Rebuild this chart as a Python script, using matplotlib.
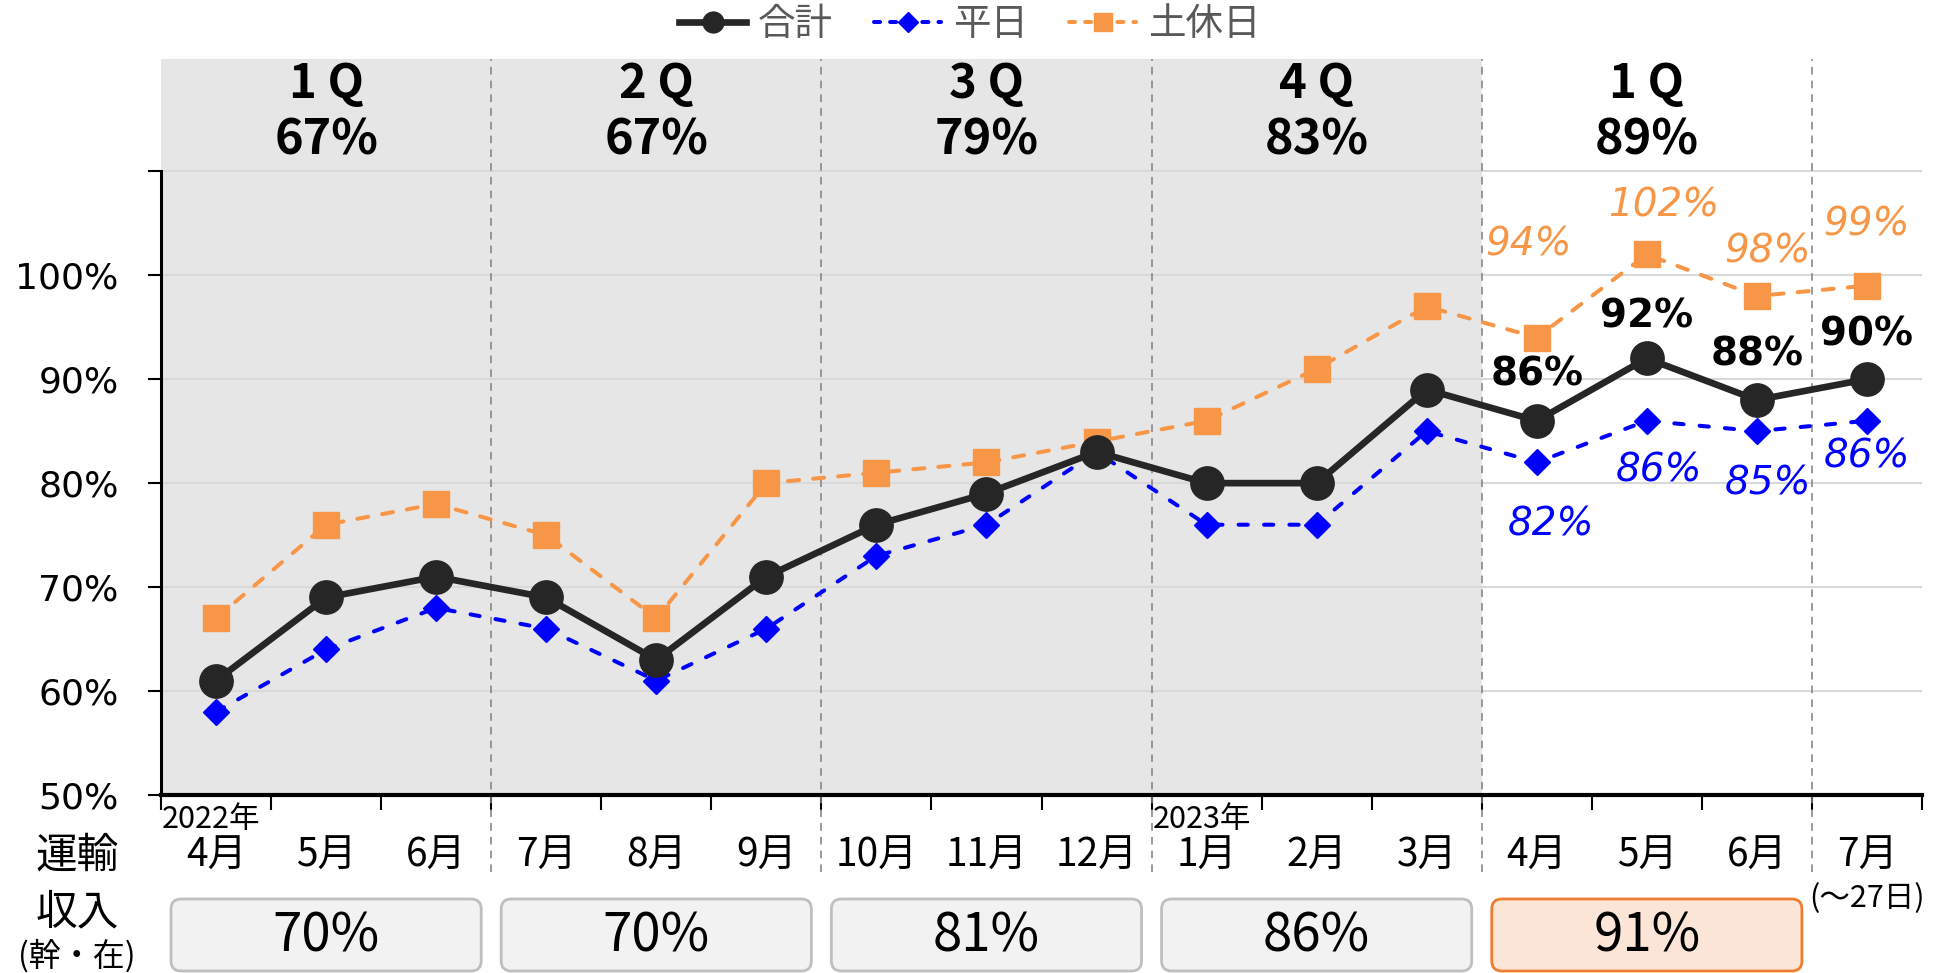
import matplotlib
matplotlib.use('Agg')
import matplotlib.pyplot as plt
from matplotlib.lines import Line2D
from matplotlib.patches import FancyBboxPatch
import matplotlib.transforms as mtransforms

plt.rcParams['font.family'] = ['Noto Sans CJK JP', 'DejaVu Sans']

# ---------------- data ----------------
months = ['4月', '5月', '6月', '7月', '8月', '9月', '10月', '11月', '12月',
          '1月', '2月', '3月', '4月', '5月', '6月', '7月']
total = [61, 69, 71, 69, 63, 71, 76, 79, 83, 80, 80, 89, 86, 92, 88, 90]
weekday = [58, 64, 68, 66, 61, 66, 73, 76, 83, 76, 76, 85, 82, 86, 85, 86]
holiday = [67, 76, 78, 75, 67, 80, 81, 82, 84, 86, 91, 97, 94, 102, 98, 99]
quarters = ['1 Q', '2 Q', '3 Q', '4 Q', '1 Q']
quarter_pct = [67, 67, 79, 83, 89]
revenue_pct = [70, 70, 81, 86, 91]
years = ['2022年', '2023年']
year_start = [0, 9]
y_ticks = [50, 60, 70, 80, 90, 100, 110]
y_ticklabels = ['50%', '60%', '70%', '80%', '90%', '100%', '']
first_labeled = 12

# label offsets (points) for the annotated months
tot_off = [(0, 33), (0, 30), (0, 33), (0, 32)]
hol_off = [(-6, 67), (12, 35), (8, 32), (0, 44)]
wk_off = [(10, -45), (9, -36), (8, -38), (0, -26)]

W, H = 1939, 973
fig = plt.figure(figsize=(W / 100, H / 100), dpi=100)
ax_l, ax_r, ax_b, ax_t = 161, 1922, 795, 59
ax = fig.add_axes([ax_l / W, 1 - ax_b / H, (ax_r - ax_l) / W, (ax_b - ax_t) / H])

n = len(months)
x = list(range(n))
ax.set_xlim(-0.5, n - 0.5)
ax.set_ylim(50, 120.8)

# shaded past-year area
ax.axvspan(-0.5, 11.5, color='#E6E6E6', zorder=0, lw=0)
for yv in y_ticks[1:]:
    ax.axhline(yv, color='#D9D9D9', lw=1.5, zorder=1)

# quarter separators
sep_tr = mtransforms.blended_transform_factory(ax.transData, ax.transAxes)
for b in [2.5, 5.5, 8.5, 11.5, 14.5]:
    ax.add_line(Line2D([b, b], [-0.105, 1.0], transform=sep_tr, color='#7F7F7F',
                       lw=1.1, ls=(0, (5, 4)), clip_on=False, zorder=2))

# series
ax.plot(x, holiday, color='#F79646', lw=2.9, ls=(0, (2.75, 3.5)),
        dash_capstyle='round', marker='s', ms=19, zorder=3)
ax.plot(x, weekday, color='#0000FF', lw=2.9, ls=(0, (2.3, 4.0)),
        dash_capstyle='round', marker='D', ms=13, zorder=4)
ax.plot(x, total, color='#262626', lw=4.8, marker='o', ms=24, zorder=5)

# annotations
for k, i in enumerate(range(first_labeled, n)):
    ax.annotate(f'{total[i]}%', (i, total[i]), xytext=tot_off[k],
                textcoords='offset points', ha='center', va='center',
                fontsize=28, fontweight='bold', family='DejaVu Sans', color='black',
                zorder=6)
    ax.annotate(f'{holiday[i]}%', (i, holiday[i]), xytext=hol_off[k],
                textcoords='offset points', ha='center', va='center',
                fontsize=28, style='italic', family='DejaVu Sans', color='#F79646',
                zorder=6)
    ax.annotate(f'{weekday[i]}%', (i, weekday[i]), xytext=wk_off[k],
                textcoords='offset points', ha='center', va='center',
                fontsize=28, style='italic', family='DejaVu Sans', color='#0000FF',
                zorder=6)

# quarter headers
for q, (lab, p) in enumerate(zip(quarters, quarter_pct)):
    cx = 3 * q + 1
    ax.text(cx, 118.4, lab, ha='center', va='center', fontsize=34,
            fontweight='bold', color='black')
    ax.text(cx, 113.0, f'{p}%', ha='center', va='center', fontsize=35,
            fontweight='bold', color='black')

# axes styling
for s in ['top', 'right']:
    ax.spines[s].set_visible(False)
ax.spines['left'].set_bounds(50, 110)
ax.spines['left'].set_linewidth(2.2)
ax.spines['bottom'].set_linewidth(3)
ax.set_yticks(y_ticks)
ax.set_yticklabels(y_ticklabels, family='DejaVu Sans', fontsize=26)
ax.tick_params(axis='y', length=9.5, width=1.5, pad=21)
ax.set_xticks([b - 0.5 for b in range(n + 1)])
ax.set_xticklabels([])
ax.tick_params(axis='x', length=11, width=1.5)

lab_tr = sep_tr
for i, m in enumerate(months):
    ax.text(i, -0.083, m, transform=lab_tr, ha='center', va='center', fontsize=28)
for ylab, si in zip(years, year_start):
    ax.text(si - 0.49, -0.033, ylab, transform=lab_tr, ha='left', va='center',
            fontsize=22)
ax.text(n - 1, -0.141, '(～27日)', transform=lab_tr, ha='center', va='center',
        fontsize=22)

# left-side row labels
for txt, yy, fs in [('運輸', 856, 30), ('収入', 913, 30), ('(幹・在)', 956, 23)]:
    fig.text(77 / W, 1 - yy / H, txt, ha='center', va='center', fontsize=fs)

# revenue boxes (pixel overlay)
ov = fig.add_axes([0, 0, 1, 1])
ov.set_xlim(0, W)
ov.set_ylim(H, 0)
ov.axis('off')
ov.patch.set_alpha(0)
for q, rv in enumerate(revenue_pct):
    x0 = ax.transData.transform((3 * q - 0.5, 50))[0] + 10
    x1 = ax.transData.transform((3 * q + 2.5, 50))[0] - 10
    last = q == len(revenue_pct) - 1
    fc = '#FBE5D6' if last else '#F2F2F2'
    ec = '#ED7D31' if last else '#BFBFBF'
    pad = 10
    ov.add_patch(FancyBboxPatch((x0 + pad, 899 + pad), x1 - x0 - 2 * pad, 72 - 2 * pad,
                                boxstyle=f'round,pad={pad}', fc=fc, ec=ec, lw=2))
    ov.text((x0 + x1) / 2, 936, f'{rv}%', ha='center', va='center', fontsize=38)

# legend
handles = [
    Line2D([], [], color='#262626', lw=4.8, marker='o', ms=15),
    Line2D([], [], color='#0000FF', lw=2.9, ls=(0, (1.5, 2.5)), marker='D', ms=10,
           dash_capstyle='round'),
    Line2D([], [], color='#F79646', lw=2.9, ls=(0, (1.5, 2.5)), marker='s', ms=13,
           dash_capstyle='round'),
]
fig.legend(handles, ['合計', '平日', '土休日'], loc='center',
           bbox_to_anchor=(0.5, 1 - 25 / H), ncol=3, frameon=False, fontsize=27,
           handlelength=1.8, handletextpad=0.3, columnspacing=1.1,
           labelcolor='#595959')

fig.savefig('out.png', dpi=100)
